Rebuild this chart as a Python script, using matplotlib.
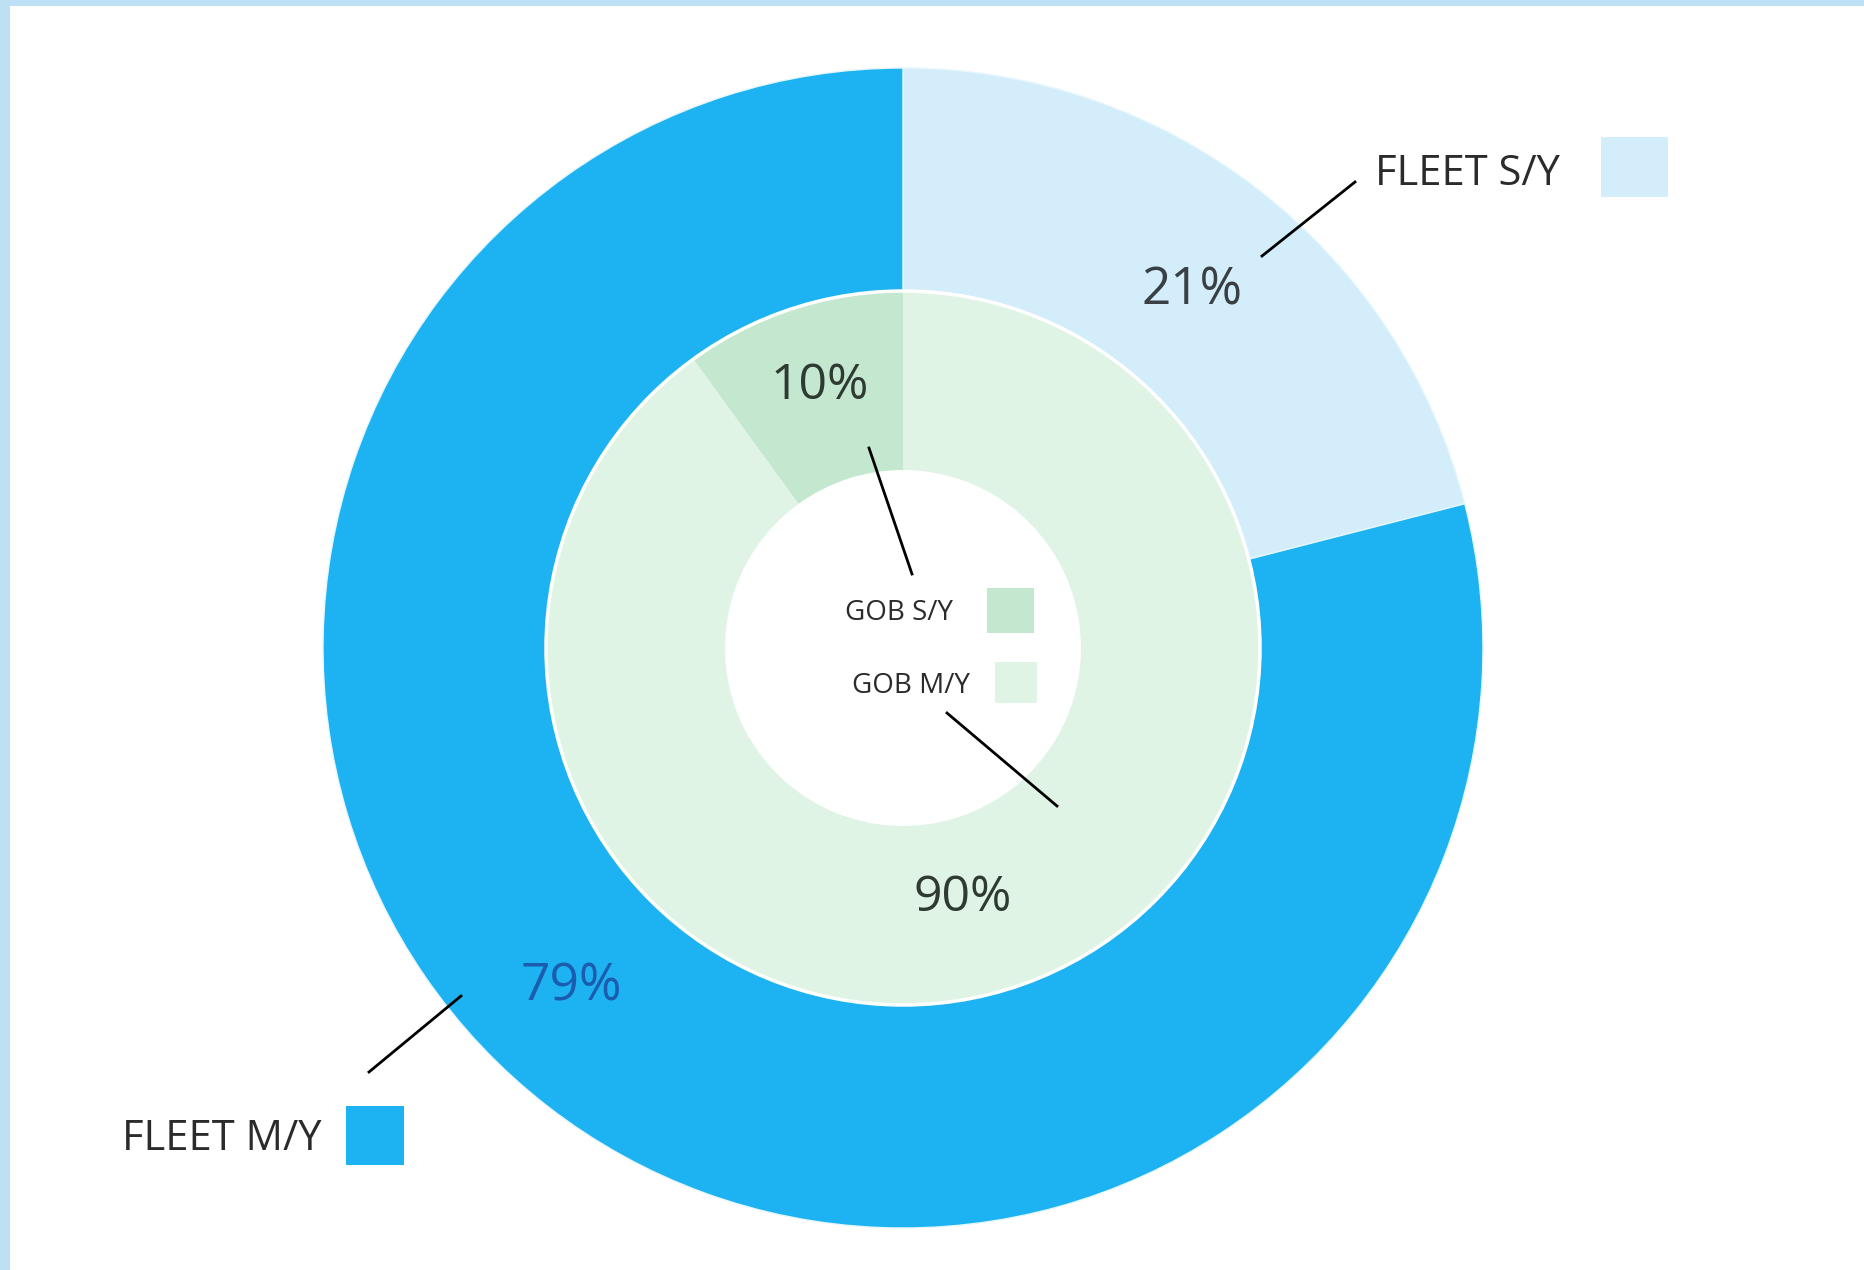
import numpy as np
import matplotlib.pyplot as plt
from matplotlib.patches import Rectangle, Circle

W, H = 1864, 1270

# fleet split (outer ring, clockwise from 12 o'clock)
fleet_labels = ['FLEET S/Y', 'FLEET M/Y']
fleet_values = [21, 79]
fleet_colors = ['#d3edfb', '#1db3f2']

# GOB split (inner ring, counter-clockwise from 12 o'clock)
gob_labels = ['GOB S/Y', 'GOB M/Y']
gob_values = [10, 90]
gob_colors = ['#c4e8cf', '#e0f4e6']

plt.rcParams['font.family'] = ['Open Sans', 'DejaVu Sans']

fig = plt.figure(figsize=(W / 100, H / 100), dpi=100)
ax = fig.add_axes([0, 0, 1, 1])

def py(y):
    # pixel row (from top) to axes y
    return H - y

cx, cy = 903, py(648)
r_out, r_mid, r_in = 580, 357, 178

ax.pie(fleet_values, colors=fleet_colors, startangle=90, counterclock=False,
       radius=r_out, center=(cx, cy), frame=True,
       wedgeprops=dict(width=r_out - r_mid, edgecolor='#e6f7fd', linewidth=1))
ax.pie(gob_values, colors=gob_colors, startangle=90, counterclock=True,
       radius=r_mid, center=(cx, cy), frame=True,
       wedgeprops=dict(width=r_mid - r_in, linewidth=0))
# thin white seam between the two rings
ax.add_patch(Circle((cx, cy), r_mid, fill=False, edgecolor='white', lw=2.5))
ax.set_xlim(0, W)
ax.set_ylim(0, H)
ax.set_aspect('equal')
ax.axis('off')

# percentage labels
ax.text(1192, py(291), f'{fleet_values[0]}%', fontsize=37, color='#3a3f44',
        ha='center', va='center')
ax.text(571, py(987), f'{fleet_values[1]}%', fontsize=37, color='#1c5cae',
        ha='center', va='center')
ax.text(820, py(386), f'{gob_values[0]}%', fontsize=36, color='#2f3a33',
        ha='center', va='center')
ax.text(963, py(898), f'{gob_values[1]}%', fontsize=36, color='#2f3a33',
        ha='center', va='center')

# leader lines
leaders = [((1262, 256), (1355, 182)),
           ((461, 996), (369, 1072)),
           ((869, 448), (912, 574)),
           ((947, 713), (1057, 806))]
for (x0, y0), (x1, y1) in leaders:
    ax.plot([x0, x1], [py(y0), py(y1)], color='black', lw=2)

# callout labels with colour swatches
ax.text(1375, py(174), fleet_labels[0], fontsize=30, color='#2b2b2b',
        ha='left', va='center')
ax.add_patch(Rectangle((1601, py(197)), 67, 60, color=fleet_colors[0], lw=0))
ax.text(122, py(1139), fleet_labels[1], fontsize=30, color='#2b2b2b',
        ha='left', va='center')
ax.add_patch(Rectangle((346, py(1165)), 58, 59, color=fleet_colors[1], lw=0))
ax.text(845, py(613), gob_labels[0], fontsize=20, color='#2b2b2b',
        ha='left', va='center')
ax.add_patch(Rectangle((987, py(633)), 47, 45, color=gob_colors[0], lw=0))
ax.text(852, py(686), gob_labels[1], fontsize=20, color='#2b2b2b',
        ha='left', va='center')
ax.add_patch(Rectangle((995, py(703)), 42, 41, color=gob_colors[1], lw=0))

# light blue frame strips along the top and left edges
ax.add_patch(Rectangle((0, py(6)), W, 6, color='#bde0f5', lw=0))
ax.add_patch(Rectangle((0, 0), 10, H, color='#bde0f5', lw=0))

fig.savefig('out.png', dpi=100)
